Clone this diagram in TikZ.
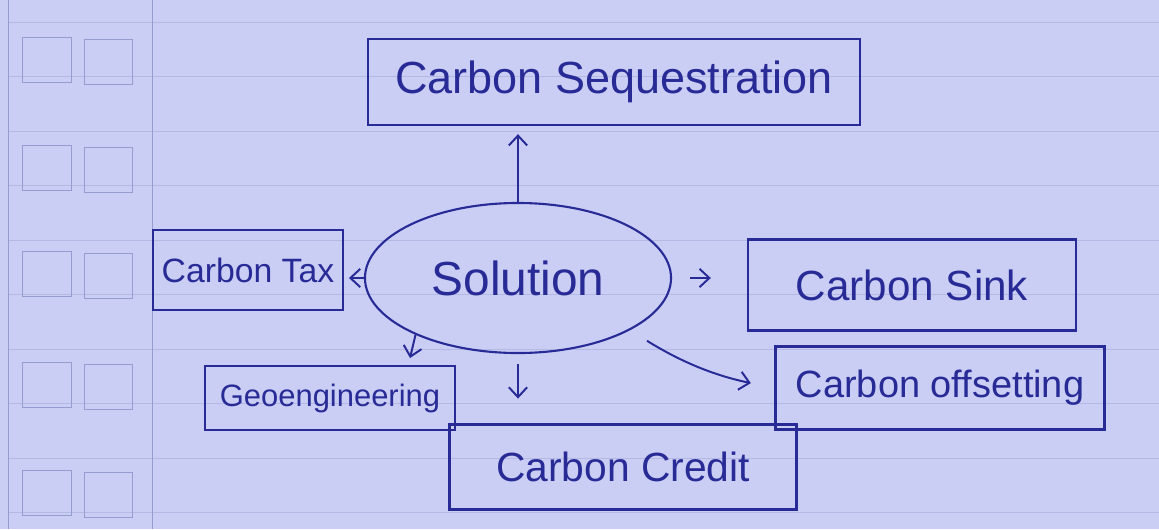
\documentclass[tikz,border=0pt]{standalone}
\usepackage{fontspec}
\setmainfont{Liberation Sans}
\usetikzlibrary{arrows.meta,shapes.geometric}
\definecolor{paper}{RGB}{202,206,245}
\definecolor{ruled}{RGB}{180,185,228}
\definecolor{ink}{RGB}{40,42,150}
\definecolor{margin}{RGB}{150,156,205}
\begin{document}
\begin{tikzpicture}[x=0.025cm,y=-0.025cm,
  box/.style={draw=ink, line width=1.6pt, rectangle, inner sep=0pt, text=ink},
  arr/.style={draw=ink, line width=1.4pt, -{Straight Barb[length=7pt,width=13pt]}},
  sq/.style={draw=margin, line width=0.6pt}]
\fill[paper] (0,0) rectangle (1159,529);
\useasboundingbox (0,0) rectangle (1159,529);
% paper rules
\foreach \k in {0,...,9}
  \draw[ruled, line width=0.6pt] (8,{22+54.5*\k}) -- (1159,{22+54.5*\k});
\draw[margin, line width=0.6pt] (8,0) -- (8,529);
\draw[margin, line width=0.6pt] (152,0) -- (152,529);
\foreach \y in {37,145,251,362,470} {
  \draw[sq] (22,\y) rectangle ++(49,45);
  \draw[sq] (84,{\y+2}) rectangle ++(48,45);
}
% nodes
\node[draw=ink, ellipse, line width=1.5pt, minimum width=7.65cm, minimum height=3.75cm,
      inner sep=0pt, text=ink, font=\fontsize{34}{40}\selectfont] (sol) at (518,278) {Solution};
\node[box, minimum width=12.3cm, minimum height=2.15cm, font=\fontsize{32}{36}\selectfont]
  (seq) at (614,82) {Carbon Sequestration};
\node[box, minimum width=4.75cm, minimum height=2.0cm, font=\fontsize{24}{28}\selectfont]
  (tax) at (248,270) {Carbon Tax};
\node[box, minimum width=8.2cm, minimum height=2.275cm, font=\fontsize{30}{34}\selectfont]
  (sink) at (912,285) {Carbon Sink};
\node[box, minimum width=6.25cm, minimum height=1.6cm, font=\fontsize{22}{26}\selectfont]
  (geo) at (330,398) {Geoengineering};
\node[box, minimum width=8.675cm, minimum height=2.125cm, font=\fontsize{29}{33}\selectfont]
  (credit) at (623,467) {Carbon Credit};
\node[box, minimum width=8.225cm, minimum height=2.075cm, font=\fontsize{27}{31}\selectfont]
  (offset) at (940,388) {Carbon offsetting};
\coordinate (geoin) at (410,358);
% connectors
\draw[arr, shorten >=0.2cm] (sol.north) -- (sol.north |- seq.south);
\draw[arr, shorten >=0.12cm] (sol.west) -- (sol.west -| tax.east);
\draw[arr, shorten <=0.45cm, shorten >=0.9cm] (sol.east) -- (sol.east -| sink.west);
\draw[arr] (sol.209) -- (geoin);
\draw[arr, shorten <=0.25cm, shorten >=0.62cm] (sol.south) -- (sol.south |- credit.north);
\draw[arr, shorten <=0.5cm, shorten >=0.6cm] (sol.335) to[bend right=10] (offset.west);
\end{tikzpicture}
\end{document}
